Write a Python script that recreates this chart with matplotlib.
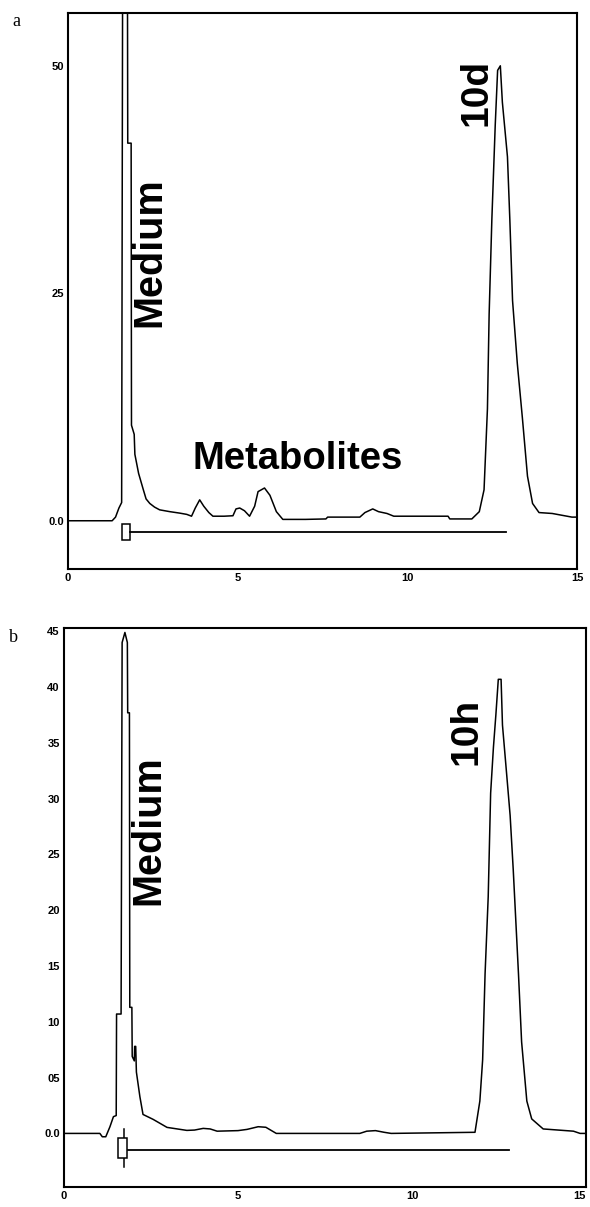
import matplotlib
matplotlib.use("Agg")
import matplotlib.pyplot as plt
from matplotlib.patches import Rectangle

# panel a: retention time (min) vs signal
t_a = [0, 1.30, 1.40, 1.50, 1.58, 1.61, 1.68, 1.75, 1.76, 1.86, 1.87, 1.95, 1.97, 2.08, 2.22,
       2.30, 2.41, 2.55, 2.70, 3.00, 3.29, 3.50, 3.64, 3.75, 3.88, 4.00, 4.15, 4.27, 4.60, 4.86,
       4.95, 5.06, 5.20, 5.35, 5.50, 5.60, 5.79, 5.95, 6.14, 6.33, 7.00, 7.60, 7.65, 8.60, 8.75,
       8.98, 9.15, 9.40, 9.60, 10.5, 11.2, 11.25, 11.9, 12.12, 12.26, 12.36, 12.41, 12.49, 12.59,
       12.66, 12.74, 12.80, 12.95, 13.02, 13.10, 13.24, 13.39, 13.54, 13.69, 13.88, 14.27, 14.85, 15.0]
s_a = [0, 0, 0.4, 1.4, 2.0, 62, 80, 62, 41.5, 41.5, 10.5, 9.5, 7.3, 5.2, 3.4,
       2.4, 1.9, 1.5, 1.2, 1.0, 0.84, 0.7, 0.5, 1.4, 2.3, 1.6, 0.9, 0.5, 0.5, 0.55,
       1.3, 1.4, 1.1, 0.5, 1.6, 3.2, 3.6, 2.8, 1.0, 0.15, 0.15, 0.2, 0.4, 0.4, 0.9,
       1.3, 1.0, 0.8, 0.5, 0.5, 0.5, 0.2, 0.2, 1.0, 3.4, 12.3, 22.7, 33.1, 43.5,
       49.5, 50.0, 46.0, 40.0, 33.1, 24.2, 17.3, 11.3, 4.9, 1.9, 0.9, 0.8, 0.4, 0.4]

# panel b
t_b = [0, 1.03, 1.10, 1.20, 1.32, 1.42, 1.50, 1.51, 1.64, 1.67, 1.75, 1.82, 1.83, 1.88, 1.89,
       1.95, 1.96, 2.02, 2.03, 2.06, 2.08, 2.18, 2.27, 2.56, 2.96, 3.53, 3.75, 4.00, 4.20, 4.40,
       5.00, 5.26, 5.58, 5.80, 6.10, 6.50, 8.50, 8.70, 8.95, 9.20, 9.40, 11.81, 11.95, 12.03, 12.10,
       12.19, 12.26, 12.34, 12.41, 12.48, 12.56, 12.60, 12.72, 12.82, 12.91, 13.06, 13.15, 13.30,
       13.44, 13.77, 14.64, 14.83, 15.0]
s_b = [0, 0, -0.3, -0.3, 0.6, 1.5, 1.6, 10.7, 10.7, 44.0, 44.9, 44.0, 37.7, 37.7, 11.3,
       11.3, 6.9, 6.5, 7.8, 7.8, 5.5, 3.3, 1.7, 1.26, 0.54, 0.27, 0.3, 0.45, 0.4, 0.2,
       0.25, 0.36, 0.6, 0.55, 0.0, 0.0, 0.0, 0.2, 0.25, 0.1, 0.0, 0.1, 2.9, 6.6, 14.3,
       21.2, 30.5, 34.6, 37.5, 40.7, 40.7, 36.6, 32.2, 28.5, 23.6, 14.3, 8.2, 2.9,
       1.3, 0.4, 0.2, 0.0, 0.0]

xticks = [0, 5, 10, 15]
xlabels = ["0", "5", "10", "15"]
yticks_a = [0, 25, 50]
ylabels_a = ["0.0", "25", "50"]
yticks_b = [0, 5, 10, 15, 20, 25, 30, 35, 40, 45]
ylabels_b = ["0.0", "05", "10", "15", "20", "25", "30", "35", "40", "45"]

# integration baseline marker (start, end, level)
base_a = [1.82, 12.9, -1.24]
base_b = [1.85, 12.8, -1.45]

lab_font = ["Liberation Sans", "DejaVu Sans"]

fig = plt.figure(figsize=(5.90, 12.07), dpi=100)
ax1 = fig.add_axes([0.1153, 0.5286, 0.8627, 0.4606])
ax2 = fig.add_axes([0.1085, 0.0166, 0.8847, 0.4631])


def style(ax, yt, yl, ylim):
    ax.set_xlim(0, 15)
    ax.set_ylim(*ylim)
    ax.set_xticks(xticks)
    ax.set_xticklabels(xlabels)
    ax.set_yticks(yt)
    ax.set_yticklabels(yl)
    ax.tick_params(length=0, pad=3, labelsize=8)
    for lbl in ax.get_xticklabels() + ax.get_yticklabels():
        lbl.set_fontweight("bold")
        lbl.set_family("Liberation Sans")
    for sp in ax.spines.values():
        sp.set_linewidth(1.5)
        sp.set_color("black")


# panel a
ax1.plot(t_a, s_a, color="black", lw=1.1)
ax1.plot(base_a[:2], [base_a[2]] * 2, color="black", lw=1.3)
ax1.add_patch(Rectangle((1.58, -2.1), 0.24, 1.75, fill=False, ec="black", lw=1.1))
style(ax1, yticks_a, ylabels_a, (-5.3, 55.8))
ax1.text(2.41, 29.5, "Medium", rotation=90, ha="center", va="center",
         fontsize=28.5, fontweight="bold", family=lab_font)
ax1.text(12.03, 47.1, "10d", rotation=90, ha="center", va="center",
         fontsize=28, fontweight="bold", family=lab_font)
ax1.text(6.76, 6.8, "Metabolites", ha="center", va="center",
         fontsize=27.5, fontweight="bold", family=lab_font)

# panel b
ax2.plot(t_b, s_b, color="black", lw=1.1)
ax2.plot(base_b[:2], [base_b[2]] * 2, color="black", lw=1.3)
ax2.plot([1.72, 1.72], [0.36, -3.0], color="black", lw=1.1)
ax2.add_patch(Rectangle((1.56, -2.2), 0.26, 1.75, fc="white", ec="black", lw=1.1, zorder=3))
style(ax2, yticks_b, ylabels_b, (-4.8, 45.3))
ax2.get_xticklabels()[-1].set_ha("right")
ax2.text(2.41, 27.2, "Medium", rotation=90, ha="center", va="center",
         fontsize=28.5, fontweight="bold", family=lab_font)
ax2.text(11.58, 36.0, "10h", rotation=90, ha="center", va="center",
         fontsize=28, fontweight="bold", family=lab_font)

fig.text(16 / 590, 1 - 22 / 1207, "a", ha="center", va="center", fontsize=13, family="Liberation Serif")
fig.text(13 / 590, 1 - 638 / 1207, "b", ha="center", va="center", fontsize=13, family="Liberation Serif")

fig.savefig("out.png", dpi=100)
